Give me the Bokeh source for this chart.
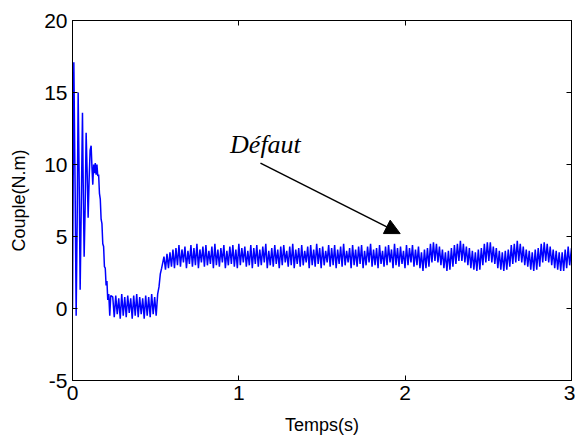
import numpy as np
from bokeh.plotting import figure
from bokeh.models import Range1d, LinearAxis, FixedTicker, Label, Arrow, NormalHead
from bokeh.embed import file_html
from bokeh.resources import INLINE

# --- start-up transient (time in s, torque in N.m) ---
t_start = [0.000, 0.008, 0.016, 0.022, 0.028, 0.034, 0.040, 0.046, 0.052, 0.060,
           0.065, 0.070, 0.076, 0.082, 0.088, 0.094, 0.100, 0.106, 0.112, 0.117,
           0.122, 0.127, 0.132, 0.137, 0.142, 0.147, 0.152, 0.157, 0.162, 0.167,
           0.172, 0.177, 0.182, 0.187, 0.192, 0.197, 0.202, 0.207, 0.212, 0.218,
           0.224, 0.230]
y_start = [0.0, 17.1, 8.0, -0.5, 6.0, 15.0, 9.0, 1.3, 6.5, 13.6,
           8.0, 3.6, 7.0, 12.2, 9.5, 6.3, 9.0, 11.0, 11.3, 9.8,
           8.6, 10.0, 9.4, 10.1, 9.3, 10.0, 9.2, 9.3, 8.0, 7.6,
           6.2, 5.9, 4.5, 4.3, 2.9, 2.8, 1.6, 1.9, 0.6, 1.0,
           -0.5, 0.9]

# --- low plateau (~0 N.m): one high and one low value per ripple cycle ---
flat_t0 = 0.242
flat_dt = 0.018
flat_hi = [0.8, 0.9, 0.7, 1.0, 0.8, 0.9, 0.7, 0.9, 1.0, 0.8, 0.7, 0.9, 0.8, 1.0, 0.8]
flat_lo = [-0.6, -0.4, -0.7, -0.5, -0.6, -0.3, -0.7, -0.5, -0.6, -0.4, -0.7, -0.5, -0.6, -0.4, -0.5]

# --- load step ---
t_rise = [0.512, 0.520, 0.528, 0.536, 0.543]
y_rise = [1.0, 1.5, 2.4, 2.8, 3.2]

# --- loaded regime: one high and one low value per ripple cycle ---
band_t0 = 0.55
band_dt = 0.018
band_hi = [3.6, 3.8, 3.9, 4.1, 4.2, 4.4, 4.1, 4.3, 4.0, 4.4,
           4.2, 4.5, 4.1, 4.3, 4.4, 4.0, 4.3, 4.5, 4.1, 4.2,
           4.4, 4.0, 4.3, 4.4, 4.1, 4.5, 4.2, 4.3, 4.0, 4.4,
           4.2, 4.4, 4.1, 4.3, 4.5, 4.0, 4.2, 4.4, 4.1, 4.3,
           4.4, 4.0, 4.3, 4.5, 4.1, 4.2, 4.4, 4.0, 4.3, 4.4,
           4.1, 4.5, 4.2, 4.3, 4.0, 4.4, 4.2, 4.4, 4.1, 4.3,
           4.5, 4.0, 4.2, 4.4, 4.1, 4.3, 4.4, 4.0, 4.3, 4.5,
           4.1, 4.2, 4.4, 4.0, 4.3, 4.4, 4.1, 4.5, 4.2, 4.3,
           4.0, 4.4, 4.2, 4.4, 4.1, 4.3,
           # fault (from ~2.1 s): slow modulation of the ripple
           3.9, 4.1, 4.2, 4.5, 4.6, 4.5, 4.3, 4.1, 3.9, 4.0,
           4.2, 4.4, 4.5, 4.7, 4.5, 4.3, 4.2, 4.0, 3.9, 4.1,
           4.2, 4.5, 4.6, 4.6, 4.3, 4.2, 4.0, 3.9, 4.0, 4.1,
           4.4, 4.5, 4.7, 4.5, 4.3, 4.1, 4.0, 3.9, 4.1, 4.2,
           4.5, 4.6, 4.5, 4.3, 4.1, 4.0, 3.9, 3.9, 4.1, 4.3]
band_lo = [2.7, 2.8, 2.9, 2.8, 3.0, 2.9, 3.2, 2.8, 3.1, 2.9,
           3.0, 2.8, 3.2, 2.9, 3.0, 3.1, 2.8, 3.0, 2.9, 3.2,
           2.8, 3.0, 3.1, 2.9, 2.8, 3.0, 3.2, 2.9, 3.0, 2.8,
           3.1, 2.9, 3.0, 3.2, 2.8, 3.0, 2.9, 3.1, 2.8, 3.0,
           3.2, 2.9, 3.0, 2.8, 3.1, 2.9, 3.0, 3.2, 2.8, 3.0,
           2.9, 3.1, 2.8, 3.0, 3.2, 2.9, 3.0, 2.8, 3.1, 2.9,
           3.0, 3.2, 2.8, 3.0, 2.9, 3.1, 2.8, 3.0, 3.2, 2.9,
           3.0, 2.8, 3.1, 2.9, 3.0, 3.2, 2.8, 3.0, 2.9, 3.1,
           2.8, 3.0, 3.2, 2.9, 3.0, 2.8,
           2.6, 2.8, 2.9, 3.2, 3.3, 3.2, 3.0, 2.8, 2.6, 2.7,
           2.9, 3.1, 3.3, 3.3, 3.2, 3.0, 2.8, 2.7, 2.6, 2.7,
           3.0, 3.2, 3.3, 3.2, 3.1, 2.8, 2.7, 2.6, 2.7, 2.9,
           3.1, 3.2, 3.3, 3.2, 3.0, 2.9, 2.7, 2.6, 2.7, 2.9,
           3.2, 3.3, 3.2, 3.0, 2.8, 2.7, 2.6, 2.6, 2.8, 3.0]
t_end = [3.0]
y_end = [4.2]

x_ticks = [0, 1, 2, 3]
y_ticks = [-5, 0, 5, 10, 15, 20]
x_label = "Temps(s)"
y_label = "Couple(N.m)"
note_text = "Défaut"
note_xy = (1.16, 11.4)
arrow_from = (1.13, 10.1)
arrow_to = (1.97, 5.2)


def ripple(t0, dt, hi, lo):
    n = len(hi)
    i = np.arange(n)
    t = np.empty(2 * n)
    y = np.empty(2 * n)
    t[0::2] = t0 + i * dt
    t[1::2] = t0 + (i + 0.5) * dt
    y[0::2] = hi
    y[1::2] = lo
    return t, y


tf, yf = ripple(flat_t0, flat_dt, flat_hi, flat_lo)
tb, yb = ripple(band_t0, band_dt, band_hi, band_lo)
t_all = np.concatenate([t_start, tf, t_rise, tb, t_end])
y_all = np.concatenate([y_start, yf, y_rise, yb, y_end])

p = figure(width=575, height=440, x_range=Range1d(0, 3), y_range=Range1d(-5, 20),
           output_backend="svg", toolbar_location=None,
           min_border_left=72, min_border_right=4, min_border_top=20, min_border_bottom=60)
p.xgrid.visible = False
p.ygrid.visible = False
p.outline_line_color = "black"
p.outline_line_width = 1
p.background_fill_color = "white"
p.border_fill_color = "white"

p.line(t_all, y_all, line_color="#0000ff", line_width=1.5)

font = "Liberation Sans"
for ax, ticks in ((p.xaxis[0], x_ticks), (p.yaxis[0], y_ticks)):
    ax.ticker = FixedTicker(ticks=ticks)
    ax.major_tick_in = 5
    ax.major_tick_out = 0
    ax.minor_tick_line_color = None
    ax.axis_line_color = "black"
    ax.major_tick_line_color = "black"
    ax.major_label_text_font = font
    ax.major_label_text_font_size = "21px"
    ax.major_label_text_color = "black"
    ax.axis_label_text_font = font
    ax.axis_label_text_font_size = "18px"
    ax.axis_label_text_font_style = "normal"
    ax.axis_label_text_color = "black"
p.yaxis[0].major_label_overrides = {-5: "-5"}
p.xaxis[0].major_label_standoff = 5
p.yaxis[0].major_label_standoff = 5

p.xaxis[0].axis_label = x_label
p.xaxis[0].axis_label_standoff = 12
p.yaxis[0].axis_label = y_label
p.yaxis[0].axis_label_standoff = 12

# mirrored axes (box with inward ticks, no labels)
right = LinearAxis(ticker=FixedTicker(ticks=y_ticks), major_tick_in=5, major_tick_out=0,
                   minor_tick_line_color=None, major_label_standoff=0,
                   major_label_overrides={t: "" for t in y_ticks},
                   axis_line_color="black")
top = LinearAxis(ticker=FixedTicker(ticks=x_ticks), major_tick_in=5, major_tick_out=0,
                 minor_tick_line_color=None, major_label_standoff=0,
                 major_label_overrides={t: "" for t in x_ticks},
                 axis_line_color="black")
p.add_layout(right, "right")
p.add_layout(top, "above")

p.add_layout(Label(x=note_xy[0], y=note_xy[1], text=note_text,
                   text_align="center", text_baseline="middle",
                   text_font="Liberation Serif", text_font_style="italic",
                   text_font_size="26px", text_color="black"))
p.add_layout(Arrow(end=NormalHead(size=15, fill_color="black", line_color="black"),
                   x_start=arrow_from[0], y_start=arrow_from[1],
                   x_end=arrow_to[0], y_end=arrow_to[1],
                   line_color="black", line_width=1.5))

open("out.html", "w").write(file_html(p, INLINE))
